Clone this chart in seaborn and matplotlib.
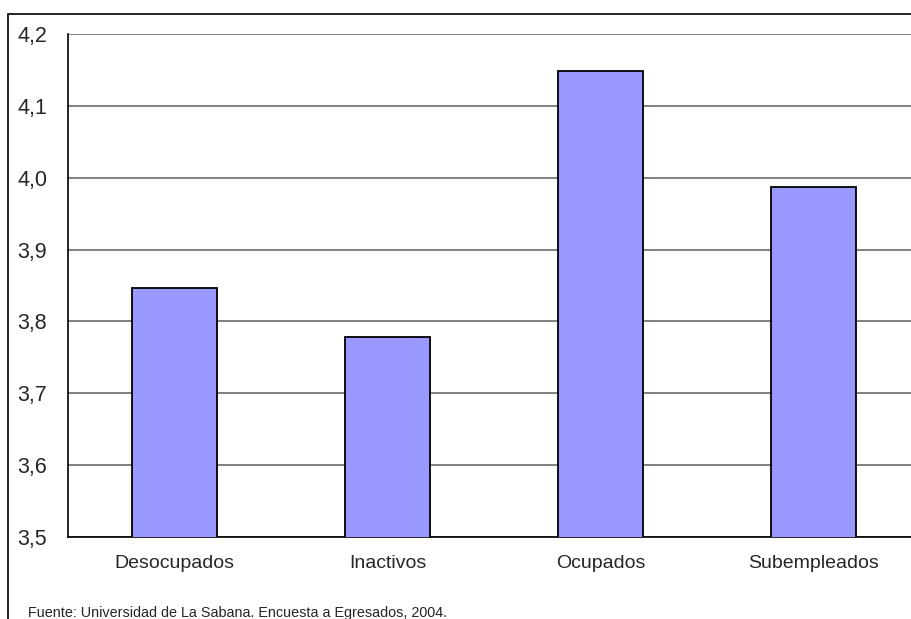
import matplotlib
matplotlib.use("Agg")
import matplotlib.pyplot as plt
import seaborn as sns
import pandas as pd
from matplotlib.patches import Rectangle
from matplotlib.ticker import FuncFormatter, FixedLocator

categories = ["Desocupados", "Inactivos", "Ocupados", "Subempleados"]
values = [3.847, 3.779, 4.149, 3.987]
yticks = [3.5, 3.6, 3.7, 3.8, 3.9, 4.0, 4.1, 4.2]
source_text = "Fuente: Universidad de La Sabana. Encuesta a Egresados, 2004."

sns.set_theme(style="white")
plt.rcParams['font.family'] = ['Liberation Sans', 'DejaVu Sans']

W, H = 912, 619
fig = plt.figure(figsize=(W / 100, H / 100), dpi=100)
fig.patch.set_facecolor("white")

# outer frame (partially cropped)
fig.add_artist(Rectangle((8 / W, -0.1), 1.2, 1 - 14 / H + 0.1, transform=fig.transFigure,
                         fill=False, edgecolor="black", linewidth=1.2))

left, right, top, bottom = 68, 920, 34, 537
ax = fig.add_axes([left / W, 1 - bottom / H, (right - left) / W, (bottom - top) / H])

df = pd.DataFrame({"cat": categories, "val": values})
sns.barplot(data=df, x="cat", y="val", ax=ax, color="#9999FF", saturation=1,
            width=0.395, edgecolor="black", linewidth=1.3, zorder=3)

ax.set_ylim(3.5, 4.2)
ax.set_xlim(-0.5, 3.5)
ax.set_yticks(yticks)
ax.yaxis.set_major_formatter(FuncFormatter(lambda v, p: f"{v:.1f}".replace(".", ",")))
ax.grid(axis="y", color="#808080", linewidth=1.4, zorder=0)
ax.grid(axis="x", visible=False)
ax.set_axisbelow(True)

ax.set_xticks(range(len(categories)))
ax.set_xticklabels(categories, fontsize=14)
ax.tick_params(axis="x", length=0, pad=13)
ax.xaxis.set_minor_locator(FixedLocator([0.5, 1.5, 2.5]))
ax.tick_params(axis="x", which="minor", length=6, width=1, color="black", direction="out")
ax.tick_params(axis="y", length=7, width=1, color="black", direction="out", labelsize=15.5, pad=8)
ax.set_xlabel("")
ax.set_ylabel("")

for s in ["top", "right"]:
    ax.spines[s].set_visible(False)
ax.spines["left"].set_color("black")
ax.spines["left"].set_linewidth(1.2)
ax.spines["bottom"].set_color("black")
ax.spines["bottom"].set_linewidth(1.2)

fig.text(28 / W, 1 - 617 / H, source_text, fontsize=10.4, ha="left", va="baseline")

fig.savefig("out.png", dpi=100)
